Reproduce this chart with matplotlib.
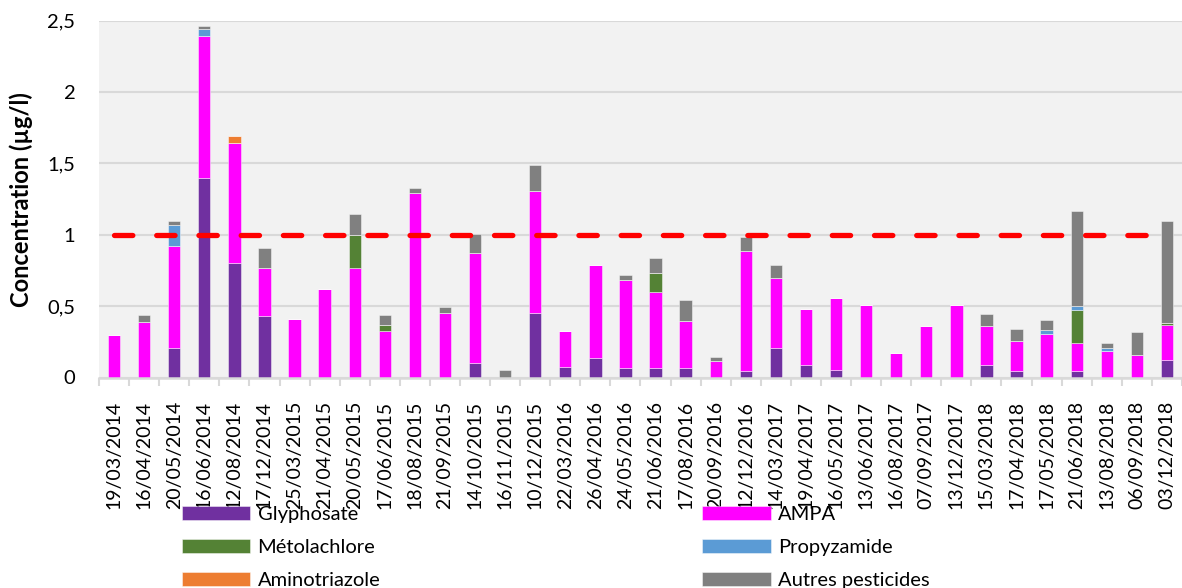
import numpy as np
import matplotlib
matplotlib.use('Agg')
import matplotlib.pyplot as plt

plt.rcParams['font.family'] = ['Lato', 'DejaVu Sans']
plt.rcParams['lines.scale_dashes'] = False

dates = ['19/03/2014', '16/04/2014', '20/05/2014', '16/06/2014', '12/08/2014', '17/12/2014',
         '25/03/2015', '21/04/2015', '20/05/2015', '17/06/2015', '18/08/2015', '21/09/2015',
         '14/10/2015', '16/11/2015', '10/12/2015', '22/03/2016', '26/04/2016', '24/05/2016',
         '21/06/2016', '17/08/2016', '20/09/2016', '12/12/2016', '14/03/2017', '19/04/2017',
         '16/05/2017', '13/06/2017', '16/08/2017', '07/09/2017', '13/12/2017', '15/03/2018',
         '17/04/2018', '17/05/2018', '21/06/2018', '13/08/2018', '06/09/2018', '03/12/2018']

glyphosate = [0, 0, 0.21, 1.40, 0.80, 0.43, 0, 0, 0, 0, 0, 0,
              0.10, 0, 0.45, 0.075, 0.14, 0.065, 0.065, 0.065, 0, 0.045, 0.21, 0.09,
              0.055, 0, 0, 0, 0, 0.09, 0.045, 0, 0.045, 0, 0, 0.12]
ampa = [0.30, 0.39, 0.71, 0.995, 0.84, 0.34, 0.41, 0.62, 0.77, 0.325, 1.29, 0.45,
        0.775, 0, 0.86, 0.25, 0.65, 0.615, 0.535, 0.33, 0.115, 0.84, 0.485, 0.39,
        0.50, 0.51, 0.175, 0.36, 0.51, 0.27, 0.21, 0.305, 0.195, 0.185, 0.155, 0.245]
metolachlore = [0, 0, 0, 0, 0, 0, 0, 0, 0.23, 0.045, 0, 0,
                0, 0, 0, 0, 0, 0, 0.13, 0, 0, 0, 0, 0,
                0, 0, 0, 0, 0, 0, 0, 0, 0.23, 0, 0, 0.015]
propyzamide = [0, 0, 0.15, 0.045, 0, 0, 0, 0, 0, 0, 0, 0,
               0, 0, 0, 0, 0, 0, 0, 0, 0, 0, 0, 0,
               0, 0, 0, 0, 0, 0, 0, 0.025, 0.03, 0.02, 0, 0]
aminotriazole = [0, 0, 0, 0, 0.055, 0, 0, 0, 0, 0, 0, 0,
                 0, 0, 0, 0, 0, 0, 0, 0, 0, 0, 0, 0,
                 0, 0, 0, 0, 0, 0, 0, 0, 0, 0, 0, 0]
autres = [0, 0.05, 0.03, 0.02, 0, 0.14, 0, 0, 0.145, 0.065, 0.04, 0.045,
          0.13, 0.05, 0.18, 0, 0, 0.035, 0.105, 0.145, 0.03, 0.10, 0.09, 0,
          0, 0, 0, 0, 0, 0.085, 0.085, 0.07, 0.665, 0.035, 0.165, 0.72]
seuil = 1.0

series = [('Glyphosate', glyphosate, '#7030A0'),
          ('AMPA', ampa, '#FF00FF'),
          ('Métolachlore', metolachlore, '#548235'),
          ('Propyzamide', propyzamide, '#5B9BD5'),
          ('Aminotriazole', aminotriazole, '#ED7D31'),
          ('Autres pesticides', autres, '#808080')]

fig = plt.figure(figsize=(11.82, 5.88), dpi=100)
ax = fig.add_axes([99 / 1182, 1 - 377.5 / 588, 1 - 99 / 1182, (377.5 - 20.7) / 588])
ax.set_facecolor('#F2F2F2')

x = np.arange(len(dates))
bottom = np.zeros(len(dates))
handles = {}
for name, vals, col in series:
    vals = np.array(vals)
    b = ax.bar(x, vals, 0.41, bottom=bottom, color=col,
               edgecolor=(1, 1, 1, 0.45), linewidth=0.7, zorder=3, label=name)
    handles[name] = b
    bottom += vals

# seuil 1 µg/l
ax.plot(x, [seuil] * len(x), color='#FF0000', lw=3.8, dashes=(13.2, 17.2),
        dash_capstyle='round', zorder=4)

ax.set_xlim(-0.5, len(dates) - 0.5)
ax.set_ylim(0, 2.5)
ax.set_yticks([0, 0.5, 1, 1.5, 2, 2.5])
ax.set_yticklabels(['0', '0,5', '1', '1,5', '2', '2,5'], fontsize=14.5)
ax.yaxis.grid(True, color='#D9D9D9', lw=1.5, zorder=0)
ax.tick_params(axis='y', length=0, pad=17)

ax.set_xticks(x)
ax.set_xticklabels(dates, rotation=90, fontsize=14)
ax.set_xticks(np.arange(-0.5, len(dates), 1), minor=True)
ax.tick_params(axis='x', which='major', length=0, pad=17)
ax.tick_params(axis='x', which='minor', length=5.5, color='#D9D9D9', width=1.5)

for s in ['top', 'right', 'left']:
    ax.spines[s].set_visible(False)
ax.spines['bottom'].set_color('#D9D9D9')
ax.spines['bottom'].set_linewidth(1.8)
ax.spines['bottom'].set_zorder(5)

ax.set_ylabel('Concentration (µg/l)', fontsize=17, fontweight='bold')
ax.yaxis.set_label_coords(-66 / 1083, 0.5)

order = ['Glyphosate', 'Métolachlore', 'Aminotriazole', 'AMPA', 'Propyzamide', 'Autres pesticides']
fig.legend([handles[n] for n in order], order, ncol=2, loc='upper left',
           bbox_to_anchor=(182 / 1182, 1 - 506 / 588), frameon=False, fontsize=14.5,
           borderpad=0, borderaxespad=0, handlelength=3.4, handleheight=0.7,
           handletextpad=0.35, labelspacing=0.78, columnspacing=16)

fig.savefig('out.png', dpi=100)
